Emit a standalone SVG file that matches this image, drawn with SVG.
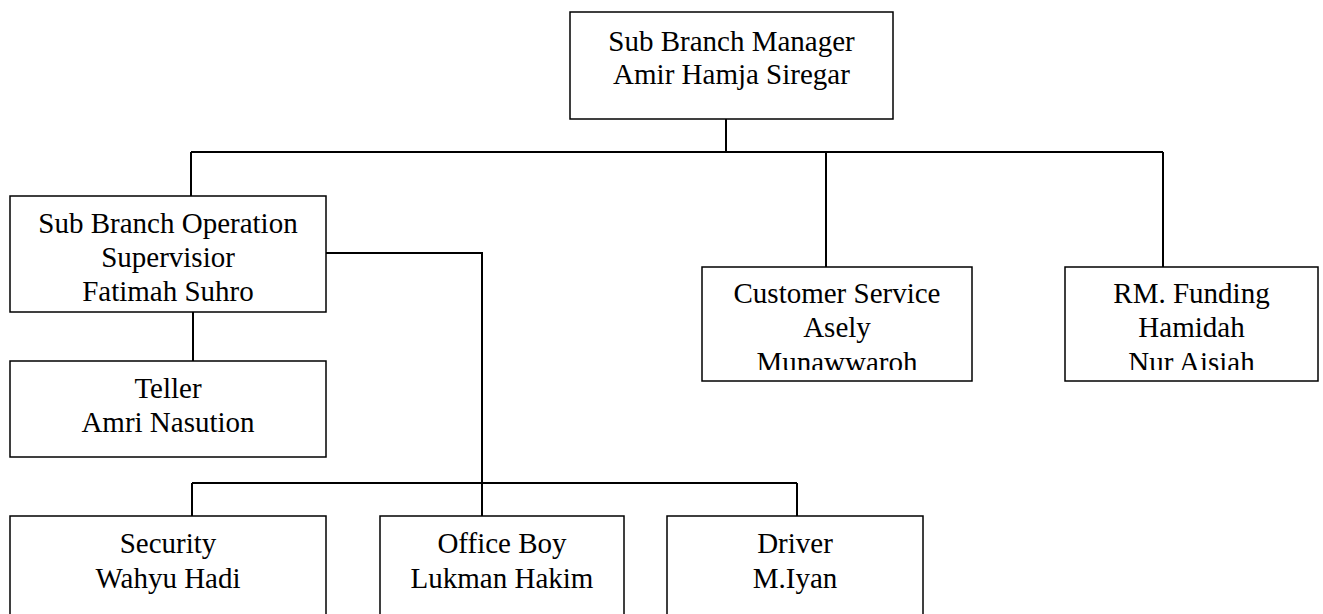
<svg xmlns="http://www.w3.org/2000/svg" width="1323" height="614" viewBox="0 0 1323 614">
<style>
.box{fill:#fff;stroke:#000;stroke-width:1.5}
.ln{fill:none;stroke:#000;stroke-width:2}
text{font-family:"Liberation Serif","Times New Roman",serif;font-size:29px;fill:#000;text-anchor:middle}
</style>
<defs>
<clipPath id="cpCS"><rect x="702" y="267" width="270" height="103"/></clipPath>
<clipPath id="cpRM"><rect x="1065" y="267" width="253" height="103"/></clipPath>
</defs>
<rect width="1323" height="614" fill="#fff"/>
<g id="connectors">
<path class="ln" d="M726 119V152M191 152H1163M191 152V196M826 152V267M1163 152V267"/>
<path class="ln" d="M193 312V361M326 253H482V516M192 483H797M192 483V516M797 483V516"/>
</g>
<g id="manager">
<rect class="box" x="570" y="12" width="323" height="107"/>
<text x="731.5" y="51">Sub Branch Manager</text>
<text x="731.5" y="84">Amir Hamja Siregar</text>
</g>
<g id="supervisor">
<rect class="box" x="10" y="196" width="316" height="116"/>
<text x="168" y="233">Sub Branch Operation</text>
<text x="168" y="267">Supervisior</text>
<text x="168" y="301">Fatimah Suhro</text>
</g>
<g id="teller">
<rect class="box" x="10" y="361" width="316" height="96"/>
<text x="168" y="398">Teller</text>
<text x="168" y="432">Amri Nasution</text>
</g>
<g id="customer-service">
<rect class="box" x="702" y="267" width="270" height="114"/>
<g clip-path="url(#cpCS)">
<text x="837" y="303">Customer Service</text>
<text x="837" y="337">Asely</text>
<text x="837" y="372">Munawwaroh</text>
</g>
</g>
<g id="rm-funding">
<rect class="box" x="1065" y="267" width="253" height="114"/>
<g clip-path="url(#cpRM)">
<text x="1191.5" y="303">RM. Funding</text>
<text x="1191.5" y="337">Hamidah</text>
<text x="1191.5" y="372">Nur Aisiah</text>
</g>
</g>
<g id="security">
<rect class="box" x="10" y="516" width="316" height="110"/>
<text x="168" y="553">Security</text>
<text x="168" y="588">Wahyu Hadi</text>
</g>
<g id="office-boy">
<rect class="box" x="380" y="516" width="244" height="110"/>
<text x="502" y="553">Office Boy</text>
<text x="502" y="588">Lukman Hakim</text>
</g>
<g id="driver">
<rect class="box" x="667" y="516" width="256" height="110"/>
<text x="795" y="553">Driver</text>
<text x="795" y="588">M.Iyan</text>
</g>
</svg>
